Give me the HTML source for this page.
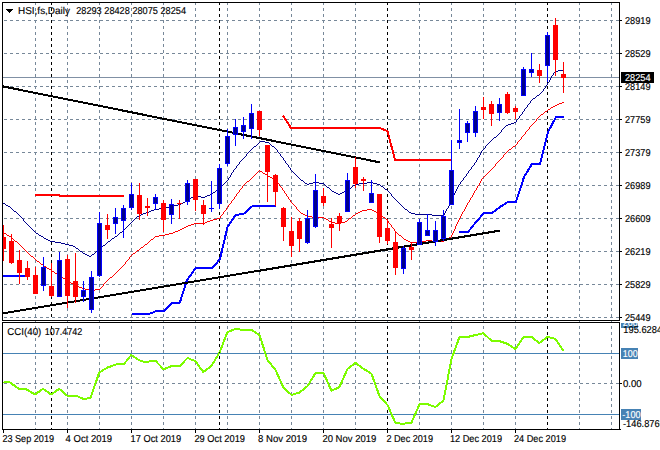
<!DOCTYPE html>
<html><head><meta charset="utf-8"><title>HSI.fs Daily</title>
<style>
html,body{margin:0;padding:0;background:#fff;}
body{width:660px;height:450px;overflow:hidden;position:relative;}
svg{position:absolute;left:0;top:0;display:block;}
text{font-family:"Liberation Sans",sans-serif;font-size:10px;fill:#000;stroke:#000;stroke-width:0.15px;text-rendering:geometricPrecision;}
.w{fill:#fff;stroke:#fff;}
</style></head><body>
<svg width="660" height="450" viewBox="0 0 660 450">
<rect x="0" y="0" width="660" height="450" fill="#fff"/>
<g shape-rendering="crispEdges" fill="none" stroke-width="1">
<line x1="3" y1="20.5" x2="619" y2="20.5" stroke="#778899" stroke-dasharray="3 3" stroke-dashoffset="5"/>
<line x1="3" y1="53.5" x2="619" y2="53.5" stroke="#778899" stroke-dasharray="3 3" stroke-dashoffset="5"/>
<line x1="3" y1="86.5" x2="619" y2="86.5" stroke="#778899" stroke-dasharray="3 3" stroke-dashoffset="5"/>
<line x1="3" y1="119.5" x2="619" y2="119.5" stroke="#778899" stroke-dasharray="3 3" stroke-dashoffset="5"/>
<line x1="3" y1="152.5" x2="619" y2="152.5" stroke="#778899" stroke-dasharray="3 3" stroke-dashoffset="5"/>
<line x1="3" y1="185.5" x2="619" y2="185.5" stroke="#778899" stroke-dasharray="3 3" stroke-dashoffset="5"/>
<line x1="3" y1="218.5" x2="619" y2="218.5" stroke="#778899" stroke-dasharray="3 3" stroke-dashoffset="5"/>
<line x1="3" y1="251.5" x2="619" y2="251.5" stroke="#778899" stroke-dasharray="3 3" stroke-dashoffset="5"/>
<line x1="3" y1="284.5" x2="619" y2="284.5" stroke="#778899" stroke-dasharray="3 3" stroke-dashoffset="5"/>
<line x1="3" y1="317.5" x2="619" y2="317.5" stroke="#778899" stroke-dasharray="3 3" stroke-dashoffset="5"/>
<line x1="3" y1="383.5" x2="619" y2="383.5" stroke="#778899" stroke-dasharray="3 3" stroke-dashoffset="5"/>
<line x1="35.5" y1="3" x2="35.5" y2="320" stroke="#778899" stroke-dasharray="3 3" stroke-dashoffset="1"/>
<line x1="35.5" y1="321" x2="35.5" y2="322" stroke="#778899" stroke-dasharray="3 3" stroke-dashoffset="1"/>
<line x1="35.5" y1="323" x2="35.5" y2="429" stroke="#778899" stroke-dasharray="3 3" stroke-dashoffset="3"/>
<line x1="67.5" y1="3" x2="67.5" y2="320" stroke="#778899" stroke-dasharray="3 3" stroke-dashoffset="1"/>
<line x1="67.5" y1="321" x2="67.5" y2="322" stroke="#778899" stroke-dasharray="3 3" stroke-dashoffset="1"/>
<line x1="67.5" y1="323" x2="67.5" y2="429" stroke="#778899" stroke-dasharray="3 3" stroke-dashoffset="3"/>
<line x1="99.5" y1="3" x2="99.5" y2="320" stroke="#778899" stroke-dasharray="3 3" stroke-dashoffset="1"/>
<line x1="99.5" y1="321" x2="99.5" y2="322" stroke="#778899" stroke-dasharray="3 3" stroke-dashoffset="1"/>
<line x1="99.5" y1="323" x2="99.5" y2="429" stroke="#778899" stroke-dasharray="3 3" stroke-dashoffset="3"/>
<line x1="131.5" y1="3" x2="131.5" y2="320" stroke="#778899" stroke-dasharray="3 3" stroke-dashoffset="1"/>
<line x1="131.5" y1="321" x2="131.5" y2="322" stroke="#778899" stroke-dasharray="3 3" stroke-dashoffset="1"/>
<line x1="131.5" y1="323" x2="131.5" y2="429" stroke="#778899" stroke-dasharray="3 3" stroke-dashoffset="3"/>
<line x1="163.5" y1="3" x2="163.5" y2="320" stroke="#778899" stroke-dasharray="3 3" stroke-dashoffset="1"/>
<line x1="163.5" y1="321" x2="163.5" y2="322" stroke="#778899" stroke-dasharray="3 3" stroke-dashoffset="1"/>
<line x1="163.5" y1="323" x2="163.5" y2="429" stroke="#778899" stroke-dasharray="3 3" stroke-dashoffset="3"/>
<line x1="195.5" y1="3" x2="195.5" y2="320" stroke="#778899" stroke-dasharray="3 3" stroke-dashoffset="1"/>
<line x1="195.5" y1="321" x2="195.5" y2="322" stroke="#778899" stroke-dasharray="3 3" stroke-dashoffset="1"/>
<line x1="195.5" y1="323" x2="195.5" y2="429" stroke="#778899" stroke-dasharray="3 3" stroke-dashoffset="3"/>
<line x1="227.5" y1="3" x2="227.5" y2="320" stroke="#778899" stroke-dasharray="3 3" stroke-dashoffset="1"/>
<line x1="227.5" y1="321" x2="227.5" y2="322" stroke="#778899" stroke-dasharray="3 3" stroke-dashoffset="1"/>
<line x1="227.5" y1="323" x2="227.5" y2="429" stroke="#778899" stroke-dasharray="3 3" stroke-dashoffset="3"/>
<line x1="259.5" y1="3" x2="259.5" y2="320" stroke="#778899" stroke-dasharray="3 3" stroke-dashoffset="1"/>
<line x1="259.5" y1="321" x2="259.5" y2="322" stroke="#778899" stroke-dasharray="3 3" stroke-dashoffset="1"/>
<line x1="259.5" y1="323" x2="259.5" y2="429" stroke="#778899" stroke-dasharray="3 3" stroke-dashoffset="3"/>
<line x1="291.5" y1="3" x2="291.5" y2="320" stroke="#778899" stroke-dasharray="3 3" stroke-dashoffset="1"/>
<line x1="291.5" y1="321" x2="291.5" y2="322" stroke="#778899" stroke-dasharray="3 3" stroke-dashoffset="1"/>
<line x1="291.5" y1="323" x2="291.5" y2="429" stroke="#778899" stroke-dasharray="3 3" stroke-dashoffset="3"/>
<line x1="323.5" y1="3" x2="323.5" y2="320" stroke="#778899" stroke-dasharray="3 3" stroke-dashoffset="1"/>
<line x1="323.5" y1="321" x2="323.5" y2="322" stroke="#778899" stroke-dasharray="3 3" stroke-dashoffset="1"/>
<line x1="323.5" y1="323" x2="323.5" y2="429" stroke="#778899" stroke-dasharray="3 3" stroke-dashoffset="3"/>
<line x1="355.5" y1="3" x2="355.5" y2="320" stroke="#778899" stroke-dasharray="3 3" stroke-dashoffset="1"/>
<line x1="355.5" y1="321" x2="355.5" y2="322" stroke="#778899" stroke-dasharray="3 3" stroke-dashoffset="1"/>
<line x1="355.5" y1="323" x2="355.5" y2="429" stroke="#778899" stroke-dasharray="3 3" stroke-dashoffset="3"/>
<line x1="387.5" y1="3" x2="387.5" y2="320" stroke="#778899" stroke-dasharray="3 3" stroke-dashoffset="1"/>
<line x1="387.5" y1="321" x2="387.5" y2="322" stroke="#778899" stroke-dasharray="3 3" stroke-dashoffset="1"/>
<line x1="387.5" y1="323" x2="387.5" y2="429" stroke="#778899" stroke-dasharray="3 3" stroke-dashoffset="3"/>
<line x1="419.5" y1="3" x2="419.5" y2="320" stroke="#778899" stroke-dasharray="3 3" stroke-dashoffset="1"/>
<line x1="419.5" y1="321" x2="419.5" y2="322" stroke="#778899" stroke-dasharray="3 3" stroke-dashoffset="1"/>
<line x1="419.5" y1="323" x2="419.5" y2="429" stroke="#778899" stroke-dasharray="3 3" stroke-dashoffset="3"/>
<line x1="451.5" y1="3" x2="451.5" y2="320" stroke="#778899" stroke-dasharray="3 3" stroke-dashoffset="1"/>
<line x1="451.5" y1="321" x2="451.5" y2="322" stroke="#778899" stroke-dasharray="3 3" stroke-dashoffset="1"/>
<line x1="451.5" y1="323" x2="451.5" y2="429" stroke="#778899" stroke-dasharray="3 3" stroke-dashoffset="3"/>
<line x1="483.5" y1="3" x2="483.5" y2="320" stroke="#778899" stroke-dasharray="3 3" stroke-dashoffset="1"/>
<line x1="483.5" y1="321" x2="483.5" y2="322" stroke="#778899" stroke-dasharray="3 3" stroke-dashoffset="1"/>
<line x1="483.5" y1="323" x2="483.5" y2="429" stroke="#778899" stroke-dasharray="3 3" stroke-dashoffset="3"/>
<line x1="515.5" y1="3" x2="515.5" y2="320" stroke="#778899" stroke-dasharray="3 3" stroke-dashoffset="1"/>
<line x1="515.5" y1="321" x2="515.5" y2="322" stroke="#778899" stroke-dasharray="3 3" stroke-dashoffset="1"/>
<line x1="515.5" y1="323" x2="515.5" y2="429" stroke="#778899" stroke-dasharray="3 3" stroke-dashoffset="3"/>
<line x1="547.5" y1="3" x2="547.5" y2="320" stroke="#778899" stroke-dasharray="3 3" stroke-dashoffset="1"/>
<line x1="547.5" y1="321" x2="547.5" y2="322" stroke="#778899" stroke-dasharray="3 3" stroke-dashoffset="1"/>
<line x1="547.5" y1="323" x2="547.5" y2="429" stroke="#778899" stroke-dasharray="3 3" stroke-dashoffset="3"/>
<line x1="579.5" y1="3" x2="579.5" y2="320" stroke="#778899" stroke-dasharray="3 3" stroke-dashoffset="1"/>
<line x1="579.5" y1="321" x2="579.5" y2="322" stroke="#778899" stroke-dasharray="3 3" stroke-dashoffset="1"/>
<line x1="579.5" y1="323" x2="579.5" y2="429" stroke="#778899" stroke-dasharray="3 3" stroke-dashoffset="3"/>
<line x1="611.5" y1="3" x2="611.5" y2="320" stroke="#778899" stroke-dasharray="3 3" stroke-dashoffset="1"/>
<line x1="611.5" y1="321" x2="611.5" y2="322" stroke="#778899" stroke-dasharray="3 3" stroke-dashoffset="1"/>
<line x1="611.5" y1="323" x2="611.5" y2="429" stroke="#778899" stroke-dasharray="3 3" stroke-dashoffset="3"/>
<line x1="51.5" y1="3" x2="51.5" y2="320" stroke="#000" stroke-dasharray="3 3" stroke-dashoffset="1"/>
<line x1="51.5" y1="323" x2="51.5" y2="429" stroke="#000" stroke-dasharray="3 3" stroke-dashoffset="3"/>
<line x1="219.5" y1="3" x2="219.5" y2="320" stroke="#000" stroke-dasharray="3 3" stroke-dashoffset="1"/>
<line x1="219.5" y1="323" x2="219.5" y2="429" stroke="#000" stroke-dasharray="3 3" stroke-dashoffset="3"/>
<line x1="387.5" y1="3" x2="387.5" y2="320" stroke="#000" stroke-dasharray="3 3" stroke-dashoffset="1"/>
<line x1="387.5" y1="323" x2="387.5" y2="429" stroke="#000" stroke-dasharray="3 3" stroke-dashoffset="3"/>
<line x1="547.5" y1="3" x2="547.5" y2="320" stroke="#000" stroke-dasharray="3 3" stroke-dashoffset="1"/>
<line x1="547.5" y1="323" x2="547.5" y2="429" stroke="#000" stroke-dasharray="3 3" stroke-dashoffset="3"/>
<line x1="3" y1="77.5" x2="619" y2="77.5" stroke="#8090a4"/>
<line x1="3" y1="353.5" x2="619" y2="353.5" stroke="#4682b4"/>
<line x1="3" y1="414.5" x2="619" y2="414.5" stroke="#4682b4"/>
</g>
<clipPath id="cm"><rect x="3" y="3" width="616" height="317"/></clipPath>
<g clip-path="url(#cm)">
<g shape-rendering="crispEdges" fill="none" stroke="#f00" stroke-width="2" stroke-linejoin="round">
<polyline points="35.0,195.0 59.5,195.0 59.5,196.0 124.0,196.0"/>
<polyline points="283.0,115.5 291.0,128.0 379.5,128.0 387.5,131.0 395.0,160.0 451.5,160.0"/>
</g>
<g shape-rendering="crispEdges" fill="none" stroke="#00f" stroke-width="2" stroke-linejoin="round">
<polyline points="3.0,276.0 26.0,276.0"/>
<polyline points="132.0,314.0 149.0,314.0 156.5,311.0 164.0,311.0 172.3,303.0 179.7,303.0 187.0,280.0 195.8,268.0 212.5,268.0 220.0,259.0 227.5,227.0 235.5,215.0 243.5,214.0 252.5,206.0 276.0,206.0"/>
<polyline points="459.0,232.0 468.0,232.0 476.0,222.0 484.0,213.0 492.0,213.0 500.0,207.0 508.0,202.0 516.0,202.0 524.0,177.0 532.0,164.0 540.0,164.0 548.0,132.0 556.0,117.0 564.0,117.0"/>
</g>
<g shape-rendering="crispEdges">
<path fill="#00008b" d="M558 70h6v1h-6zM555 71h3v1h-3zM554 72h1v1h-1zM553 73h1v2h-1zM552 75h1v1h-1zM551 76h1v2h-1zM550 78h1v2h-1zM549 80h1v2h-1zM548 82h1v1h-1zM547 83h1v2h-1zM546 85h1v1h-1zM545 86h1v2h-1zM544 88h1v1h-1zM543 89h1v2h-1zM542 91h1v1h-1zM541 92h1v1h-1zM540 93h1v1h-1zM539 94h1v1h-1zM537 95h2v1h-2zM536 96h1v1h-1zM535 97h1v1h-1zM533 98h2v1h-2zM532 99h1v1h-1zM531 100h1v1h-1zM530 101h1v2h-1zM529 103h1v1h-1zM528 104h1v1h-1zM527 105h1v2h-1zM526 107h1v1h-1zM525 108h1v1h-1zM524 109h1v2h-1zM523 111h1v1h-1zM522 112h1v2h-1zM521 114h1v1h-1zM520 115h1v1h-1zM519 116h1v2h-1zM518 118h1v1h-1zM517 119h1v1h-1zM516 120h1v2h-1zM514 122h2v1h-2zM511 123h3v1h-3zM508 124h3v1h-3zM506 125h2v1h-2zM505 126h1v1h-1zM504 127h1v1h-1zM503 128h1v1h-1zM502 129h1v1h-1zM501 130h1v2h-1zM500 132h1v1h-1zM499 133h1v1h-1zM498 134h1v1h-1zM497 135h1v1h-1zM496 136h1v1h-1zM494 137h2v1h-2zM493 138h1v1h-1zM492 139h1v1h-1zM491 140h1v1h-1zM260 141h5v1h-5zM490 141h1v1h-1zM259 142h1v1h-1zM265 142h4v1h-4zM489 142h1v1h-1zM258 143h1v1h-1zM269 143h1v1h-1zM488 143h1v1h-1zM257 144h1v1h-1zM270 144h1v1h-1zM487 144h1v1h-1zM256 145h1v1h-1zM271 145h1v1h-1zM486 145h1v1h-1zM254 146h2v1h-2zM272 146h2v1h-2zM485 146h1v2h-1zM253 147h1v1h-1zM274 147h1v1h-1zM252 148h1v1h-1zM275 148h1v1h-1zM484 148h1v1h-1zM251 149h1v1h-1zM276 149h1v1h-1zM483 149h1v1h-1zM250 150h1v1h-1zM277 150h1v2h-1zM482 150h1v1h-1zM249 151h1v1h-1zM481 151h1v2h-1zM248 152h1v1h-1zM278 152h1v1h-1zM247 153h1v1h-1zM279 153h1v1h-1zM480 153h1v2h-1zM246 154h1v2h-1zM280 154h1v2h-1zM479 155h1v2h-1zM245 156h1v1h-1zM281 156h1v1h-1zM244 157h1v1h-1zM282 157h1v1h-1zM478 157h1v1h-1zM243 158h1v1h-1zM283 158h1v2h-1zM477 158h1v2h-1zM242 159h1v1h-1zM241 160h1v1h-1zM284 160h1v1h-1zM476 160h1v2h-1zM240 161h1v1h-1zM285 161h1v2h-1zM239 162h1v2h-1zM475 162h1v1h-1zM286 163h1v1h-1zM474 163h1v2h-1zM238 164h1v1h-1zM287 164h1v1h-1zM237 165h1v1h-1zM288 165h1v2h-1zM473 165h1v1h-1zM236 166h1v2h-1zM472 166h1v1h-1zM289 167h1v1h-1zM471 167h1v2h-1zM235 168h1v1h-1zM290 168h1v2h-1zM234 169h1v1h-1zM470 169h1v1h-1zM233 170h1v2h-1zM291 170h1v1h-1zM469 170h1v1h-1zM292 171h1v1h-1zM468 171h1v2h-1zM232 172h1v1h-1zM293 172h1v1h-1zM231 173h1v2h-1zM294 173h1v1h-1zM467 173h1v1h-1zM295 174h1v1h-1zM466 174h1v2h-1zM230 175h1v2h-1zM296 175h1v1h-1zM297 176h1v1h-1zM465 176h1v1h-1zM229 177h1v1h-1zM298 177h1v1h-1zM464 177h1v1h-1zM228 178h1v2h-1zM299 178h1v1h-1zM463 178h1v2h-1zM300 179h1v1h-1zM227 180h1v1h-1zM301 180h2v1h-2zM462 180h1v1h-1zM226 181h1v1h-1zM303 181h1v1h-1zM461 181h1v1h-1zM225 182h1v1h-1zM304 182h1v1h-1zM313 182h6v1h-6zM367 182h6v1h-6zM460 182h1v2h-1zM224 183h1v1h-1zM305 183h2v1h-2zM309 183h4v1h-4zM319 183h5v1h-5zM359 183h8v1h-8zM373 183h4v1h-4zM223 184h1v1h-1zM307 184h2v1h-2zM324 184h1v1h-1zM355 184h4v1h-4zM377 184h3v1h-3zM459 184h1v1h-1zM221 185h2v1h-2zM325 185h1v1h-1zM353 185h2v1h-2zM380 185h1v1h-1zM458 185h1v2h-1zM220 186h1v1h-1zM326 186h1v1h-1zM352 186h1v1h-1zM381 186h2v1h-2zM219 187h1v1h-1zM327 187h2v1h-2zM351 187h1v1h-1zM383 187h1v1h-1zM457 187h1v2h-1zM218 188h1v1h-1zM329 188h1v1h-1zM349 188h2v1h-2zM384 188h1v1h-1zM217 189h1v1h-1zM330 189h1v1h-1zM348 189h1v1h-1zM385 189h2v1h-2zM456 189h1v2h-1zM216 190h1v1h-1zM331 190h1v1h-1zM346 190h2v1h-2zM387 190h1v1h-1zM215 191h1v1h-1zM332 191h2v1h-2zM344 191h2v1h-2zM388 191h1v1h-1zM455 191h1v2h-1zM213 192h2v1h-2zM334 192h2v1h-2zM342 192h2v1h-2zM389 192h1v1h-1zM212 193h1v1h-1zM336 193h2v1h-2zM340 193h2v1h-2zM390 193h1v1h-1zM454 193h1v2h-1zM210 194h2v1h-2zM338 194h2v1h-2zM391 194h1v2h-1zM195 195h2v1h-2zM207 195h3v1h-3zM453 195h1v2h-1zM193 196h2v1h-2zM197 196h4v1h-4zM205 196h2v1h-2zM392 196h1v1h-1zM191 197h2v1h-2zM201 197h4v1h-4zM393 197h1v1h-1zM452 197h1v4h-1zM190 198h1v1h-1zM394 198h1v1h-1zM188 199h2v1h-2zM395 199h1v1h-1zM187 200h1v1h-1zM396 200h1v1h-1zM185 201h2v1h-2zM397 201h1v1h-1zM451 201h1v2h-1zM2 202h1v1h-1zM183 202h2v1h-2zM398 202h1v1h-1zM3 203h2v1h-2zM181 203h2v1h-2zM399 203h1v1h-1zM450 203h1v2h-1zM5 204h1v1h-1zM178 204h3v1h-3zM400 204h1v1h-1zM6 205h2v1h-2zM174 205h4v1h-4zM401 205h1v1h-1zM449 205h1v1h-1zM8 206h2v1h-2zM169 206h5v1h-5zM402 206h1v1h-1zM448 206h1v2h-1zM10 207h1v1h-1zM165 207h4v1h-4zM403 207h1v1h-1zM11 208h1v1h-1zM159 208h6v1h-6zM404 208h1v1h-1zM447 208h1v1h-1zM12 209h1v1h-1zM154 209h5v1h-5zM405 209h2v1h-2zM446 209h1v2h-1zM13 210h1v1h-1zM151 210h3v1h-3zM407 210h1v1h-1zM14 211h2v1h-2zM149 211h2v1h-2zM408 211h1v1h-1zM445 211h1v2h-1zM16 212h1v1h-1zM146 212h3v1h-3zM409 212h2v1h-2zM17 213h1v1h-1zM143 213h3v1h-3zM411 213h4v1h-4zM444 213h1v2h-1zM18 214h1v1h-1zM141 214h2v1h-2zM415 214h17v1h-17zM19 215h1v1h-1zM139 215h2v1h-2zM432 215h12v1h-12zM20 216h1v1h-1zM137 216h2v1h-2zM21 217h1v1h-1zM136 217h1v1h-1zM22 218h1v1h-1zM135 218h1v1h-1zM23 219h1v2h-1zM134 219h1v1h-1zM133 220h1v1h-1zM24 221h1v1h-1zM132 221h1v1h-1zM25 222h1v1h-1zM131 222h1v1h-1zM26 223h1v1h-1zM130 223h1v1h-1zM27 224h1v1h-1zM129 224h1v1h-1zM28 225h1v1h-1zM128 225h1v1h-1zM29 226h1v1h-1zM127 226h1v1h-1zM30 227h1v1h-1zM126 227h1v1h-1zM31 228h1v1h-1zM125 228h1v1h-1zM32 229h1v1h-1zM124 229h1v1h-1zM33 230h1v1h-1zM123 230h1v1h-1zM34 231h1v1h-1zM122 231h1v1h-1zM35 232h1v1h-1zM120 232h2v1h-2zM36 233h2v1h-2zM119 233h1v1h-1zM38 234h1v1h-1zM118 234h1v1h-1zM39 235h2v1h-2zM117 235h1v1h-1zM41 236h2v1h-2zM115 236h2v1h-2zM43 237h1v1h-1zM114 237h1v1h-1zM44 238h2v1h-2zM112 238h2v1h-2zM46 239h2v1h-2zM111 239h1v1h-1zM48 240h2v1h-2zM110 240h1v1h-1zM50 241h5v1h-5zM108 241h2v1h-2zM55 242h6v1h-6zM107 242h1v1h-1zM61 243h4v1h-4zM106 243h1v1h-1zM65 244h4v1h-4zM105 244h1v1h-1zM69 245h4v1h-4zM103 245h2v1h-2zM73 246h2v1h-2zM102 246h1v1h-1zM75 247h1v1h-1zM101 247h1v1h-1zM76 248h2v1h-2zM100 248h1v1h-1zM78 249h1v1h-1zM99 249h1v1h-1zM79 250h1v1h-1zM98 250h1v1h-1zM80 251h2v1h-2zM96 251h2v1h-2zM82 252h1v1h-1zM95 252h1v1h-1zM83 253h2v1h-2zM94 253h1v1h-1zM85 254h2v1h-2zM92 254h2v1h-2zM87 255h2v1h-2zM91 255h1v1h-1zM89 256h2v1h-2z"/>
<path fill="#f00" d="M562 102h2v1h-2zM559 103h3v1h-3zM557 104h2v1h-2zM555 105h2v1h-2zM553 106h2v1h-2zM551 107h2v1h-2zM550 108h1v1h-1zM548 109h2v1h-2zM547 110h1v1h-1zM545 111h2v1h-2zM544 112h1v1h-1zM543 113h1v1h-1zM541 114h2v1h-2zM540 115h1v1h-1zM539 116h1v1h-1zM538 117h1v1h-1zM537 118h1v1h-1zM536 119h1v2h-1zM535 121h1v1h-1zM534 122h1v1h-1zM533 123h1v1h-1zM532 124h1v1h-1zM531 125h1v1h-1zM530 126h1v1h-1zM529 127h1v2h-1zM528 129h1v1h-1zM527 130h1v1h-1zM526 131h1v1h-1zM525 132h1v2h-1zM524 134h1v1h-1zM523 135h1v1h-1zM522 136h1v1h-1zM521 137h1v2h-1zM520 139h1v1h-1zM519 140h1v1h-1zM518 141h1v1h-1zM517 142h1v2h-1zM516 144h1v1h-1zM515 145h1v1h-1zM513 146h2v1h-2zM512 147h1v1h-1zM511 148h1v1h-1zM509 149h2v1h-2zM508 150h1v1h-1zM507 151h1v1h-1zM506 152h1v1h-1zM505 153h1v1h-1zM504 154h1v1h-1zM503 155h1v2h-1zM502 157h1v1h-1zM501 158h1v1h-1zM500 159h1v1h-1zM499 160h1v1h-1zM498 161h1v1h-1zM497 162h1v1h-1zM496 163h1v1h-1zM495 164h1v2h-1zM494 166h1v1h-1zM493 167h1v1h-1zM492 168h1v1h-1zM491 169h1v1h-1zM259 170h1v1h-1zM490 170h1v1h-1zM258 171h1v1h-1zM260 171h2v1h-2zM489 171h1v1h-1zM257 172h1v1h-1zM262 172h1v1h-1zM488 172h1v1h-1zM256 173h1v1h-1zM263 173h2v1h-2zM487 173h1v1h-1zM255 174h1v1h-1zM265 174h2v1h-2zM486 174h1v1h-1zM254 175h1v1h-1zM267 175h1v1h-1zM485 175h1v1h-1zM253 176h1v1h-1zM268 176h2v1h-2zM484 176h1v1h-1zM252 177h1v1h-1zM270 177h2v1h-2zM483 177h1v1h-1zM251 178h1v1h-1zM272 178h2v1h-2zM482 178h1v1h-1zM250 179h1v1h-1zM274 179h2v1h-2zM481 179h1v2h-1zM249 180h1v1h-1zM276 180h1v2h-1zM247 181h2v1h-2zM480 181h1v2h-1zM246 182h1v1h-1zM277 182h1v1h-1zM245 183h1v1h-1zM278 183h1v1h-1zM479 183h1v2h-1zM244 184h1v1h-1zM279 184h1v2h-1zM243 185h1v1h-1zM478 185h1v1h-1zM242 186h1v2h-1zM280 186h1v1h-1zM477 186h1v2h-1zM281 187h1v1h-1zM241 188h1v1h-1zM282 188h1v2h-1zM476 188h1v2h-1zM240 189h1v1h-1zM239 190h1v2h-1zM283 190h1v1h-1zM475 190h1v1h-1zM284 191h1v2h-1zM474 191h1v2h-1zM238 192h1v1h-1zM237 193h1v1h-1zM285 193h1v1h-1zM473 193h1v2h-1zM236 194h1v2h-1zM286 194h1v2h-1zM472 195h1v2h-1zM235 196h1v1h-1zM287 196h1v1h-1zM234 197h1v2h-1zM288 197h1v2h-1zM471 197h1v1h-1zM470 198h1v2h-1zM233 199h1v1h-1zM289 199h1v1h-1zM232 200h1v1h-1zM290 200h1v2h-1zM469 200h1v2h-1zM231 201h1v2h-1zM291 202h1v1h-1zM468 202h1v1h-1zM230 203h1v1h-1zM292 203h1v1h-1zM467 203h1v2h-1zM229 204h1v1h-1zM293 204h1v1h-1zM228 205h1v2h-1zM294 205h1v1h-1zM466 205h1v2h-1zM295 206h1v1h-1zM227 207h1v1h-1zM296 207h1v2h-1zM465 207h1v2h-1zM226 208h1v2h-1zM297 209h1v1h-1zM367 209h5v1h-5zM464 209h1v2h-1zM225 210h1v1h-1zM298 210h1v1h-1zM362 210h5v1h-5zM372 210h2v1h-2zM224 211h1v1h-1zM299 211h1v1h-1zM360 211h2v1h-2zM374 211h2v1h-2zM463 211h1v1h-1zM223 212h1v2h-1zM300 212h1v1h-1zM358 212h2v1h-2zM376 212h2v1h-2zM462 212h1v2h-1zM301 213h2v1h-2zM356 213h2v1h-2zM378 213h2v1h-2zM222 214h1v1h-1zM303 214h2v1h-2zM355 214h1v1h-1zM380 214h1v1h-1zM461 214h1v2h-1zM221 215h1v1h-1zM305 215h2v1h-2zM353 215h2v1h-2zM381 215h1v1h-1zM220 216h1v2h-1zM307 216h5v1h-5zM352 216h1v1h-1zM382 216h1v1h-1zM460 216h1v2h-1zM312 217h12v1h-12zM351 217h1v1h-1zM383 217h2v1h-2zM217 218h3v1h-3zM324 218h2v1h-2zM349 218h2v1h-2zM385 218h1v1h-1zM459 218h1v2h-1zM213 219h4v1h-4zM326 219h2v1h-2zM348 219h1v1h-1zM386 219h1v1h-1zM210 220h3v1h-3zM328 220h1v1h-1zM347 220h1v1h-1zM387 220h1v1h-1zM458 220h1v2h-1zM207 221h3v1h-3zM329 221h2v1h-2zM345 221h2v1h-2zM388 221h1v2h-1zM205 222h2v1h-2zM331 222h4v1h-4zM341 222h4v1h-4zM457 222h1v2h-1zM194 223h11v1h-11zM335 223h6v1h-6zM389 223h1v1h-1zM191 224h3v1h-3zM390 224h1v1h-1zM456 224h1v2h-1zM188 225h3v1h-3zM391 225h1v2h-1zM186 226h2v1h-2zM455 226h1v3h-1zM184 227h2v1h-2zM392 227h1v1h-1zM182 228h2v1h-2zM393 228h1v1h-1zM180 229h2v1h-2zM394 229h1v2h-1zM454 229h1v2h-1zM178 230h2v1h-2zM175 231h3v1h-3zM395 231h1v1h-1zM453 231h1v2h-1zM3 232h1v1h-1zM173 232h2v1h-2zM396 232h1v1h-1zM4 233h2v1h-2zM169 233h4v1h-4zM397 233h1v1h-1zM452 233h1v2h-1zM6 234h1v1h-1zM165 234h4v1h-4zM398 234h1v1h-1zM7 235h2v1h-2zM159 235h6v1h-6zM399 235h2v1h-2zM451 235h1v2h-1zM9 236h2v1h-2zM155 236h4v1h-4zM401 236h1v1h-1zM11 237h1v1h-1zM154 237h1v1h-1zM402 237h1v1h-1zM449 237h2v1h-2zM12 238h1v1h-1zM153 238h1v1h-1zM403 238h1v1h-1zM447 238h2v1h-2zM13 239h1v1h-1zM151 239h2v1h-2zM404 239h2v1h-2zM446 239h1v1h-1zM14 240h1v1h-1zM150 240h1v1h-1zM406 240h2v1h-2zM426 240h6v1h-6zM444 240h2v1h-2zM15 241h2v1h-2zM149 241h1v1h-1zM408 241h2v1h-2zM422 241h4v1h-4zM432 241h12v1h-12zM17 242h1v1h-1zM148 242h1v1h-1zM410 242h12v1h-12zM18 243h1v1h-1zM147 243h1v1h-1zM19 244h1v1h-1zM145 244h2v1h-2zM20 245h1v1h-1zM144 245h1v1h-1zM21 246h1v1h-1zM143 246h1v1h-1zM22 247h1v1h-1zM141 247h2v1h-2zM23 248h1v1h-1zM140 248h1v1h-1zM24 249h1v1h-1zM139 249h1v1h-1zM25 250h1v1h-1zM137 250h2v1h-2zM26 251h1v1h-1zM136 251h1v1h-1zM27 252h1v1h-1zM135 252h1v1h-1zM28 253h1v1h-1zM133 253h2v1h-2zM29 254h1v1h-1zM132 254h1v1h-1zM30 255h1v1h-1zM131 255h1v1h-1zM31 256h2v1h-2zM130 256h1v1h-1zM33 257h1v1h-1zM129 257h1v2h-1zM34 258h1v1h-1zM35 259h1v1h-1zM128 259h1v1h-1zM36 260h1v1h-1zM127 260h1v1h-1zM37 261h2v1h-2zM126 261h1v1h-1zM39 262h1v1h-1zM125 262h1v2h-1zM40 263h1v1h-1zM41 264h2v1h-2zM124 264h1v1h-1zM43 265h1v1h-1zM123 265h1v1h-1zM44 266h2v1h-2zM122 266h1v1h-1zM46 267h1v1h-1zM121 267h1v1h-1zM47 268h2v1h-2zM120 268h1v1h-1zM49 269h2v1h-2zM119 269h1v1h-1zM51 270h1v1h-1zM118 270h1v1h-1zM52 271h2v1h-2zM117 271h1v1h-1zM54 272h1v1h-1zM116 272h1v1h-1zM55 273h2v1h-2zM115 273h1v1h-1zM57 274h2v1h-2zM114 274h1v1h-1zM59 275h1v1h-1zM113 275h1v1h-1zM60 276h2v1h-2zM112 276h1v1h-1zM62 277h1v1h-1zM110 277h2v1h-2zM63 278h2v1h-2zM109 278h1v1h-1zM65 279h2v1h-2zM108 279h1v1h-1zM67 280h1v1h-1zM107 280h1v1h-1zM68 281h2v1h-2zM106 281h1v1h-1zM70 282h1v1h-1zM105 282h1v1h-1zM71 283h2v1h-2zM104 283h1v1h-1zM73 284h2v1h-2zM103 284h1v2h-1zM75 285h2v1h-2zM77 286h2v1h-2zM102 286h1v1h-1zM79 287h3v1h-3zM101 287h1v1h-1zM82 288h3v1h-3zM100 288h1v1h-1zM85 289h4v1h-4zM95 289h5v1h-5zM89 290h6v1h-6z"/>
</g>
<g shape-rendering="crispEdges" fill="none" stroke="#000" stroke-width="2">
<line x1="3" y1="86.4" x2="380" y2="162.4"/>
<line x1="3" y1="313.4" x2="500" y2="230.6"/>
</g>
<g shape-rendering="crispEdges">
<rect x="3" y="225" width="1" height="36" fill="#f00"/><rect x="1" y="237" width="5" height="12" fill="#f00"/>
<rect x="11" y="234" width="1" height="30" fill="#f00"/><rect x="9" y="241" width="5" height="22" fill="#f00"/>
<rect x="19" y="250" width="1" height="34" fill="#f00"/><rect x="17" y="260" width="5" height="13" fill="#f00"/>
<rect x="27" y="261" width="1" height="19" fill="#f00"/><rect x="25" y="268" width="5" height="9" fill="#f00"/>
<rect x="35" y="267" width="1" height="27" fill="#f00"/><rect x="33" y="275" width="5" height="19" fill="#f00"/>
<rect x="43" y="257" width="1" height="34" fill="#00f"/><rect x="41" y="267" width="5" height="19" fill="#00f"/><rect x="42" y="268" width="3" height="17" fill="#00008b"/>
<rect x="51" y="263" width="1" height="34" fill="#f00"/><rect x="49" y="286" width="5" height="10" fill="#f00"/>
<rect x="59" y="252" width="1" height="45" fill="#00f"/><rect x="57" y="260" width="5" height="37" fill="#00f"/><rect x="58" y="261" width="3" height="35" fill="#00008b"/>
<rect x="67" y="255" width="1" height="53" fill="#f00"/><rect x="65" y="259" width="5" height="37" fill="#f00"/>
<rect x="75" y="253" width="1" height="50" fill="#f00"/><rect x="73" y="281" width="5" height="16" fill="#f00"/>
<rect x="83" y="281" width="1" height="21" fill="#00f"/><rect x="81" y="290" width="5" height="7" fill="#00f"/><rect x="82" y="291" width="3" height="5" fill="#00008b"/>
<rect x="91" y="271" width="1" height="42" fill="#00f"/><rect x="89" y="277" width="5" height="33" fill="#00f"/><rect x="90" y="278" width="3" height="31" fill="#00008b"/>
<rect x="99" y="212" width="1" height="65" fill="#00f"/><rect x="97" y="223" width="5" height="53" fill="#00f"/><rect x="98" y="224" width="3" height="51" fill="#00008b"/>
<rect x="107" y="214" width="1" height="25" fill="#f00"/><rect x="105" y="225" width="5" height="5" fill="#f00"/>
<rect x="115" y="208" width="1" height="26" fill="#00f"/><rect x="113" y="217" width="5" height="7" fill="#00f"/><rect x="114" y="218" width="3" height="5" fill="#00008b"/>
<rect x="123" y="205" width="1" height="33" fill="#00f"/><rect x="121" y="208" width="5" height="13" fill="#00f"/><rect x="122" y="209" width="3" height="11" fill="#00008b"/>
<rect x="131" y="183" width="1" height="27" fill="#00f"/><rect x="129" y="194" width="5" height="14" fill="#00f"/><rect x="130" y="195" width="3" height="12" fill="#00008b"/>
<rect x="139" y="183" width="1" height="37" fill="#f00"/><rect x="137" y="195" width="5" height="19" fill="#f00"/>
<rect x="147" y="198" width="1" height="18" fill="#f00"/><rect x="145" y="206" width="5" height="2" fill="#f00"/>
<rect x="155" y="194" width="1" height="16" fill="#00f"/><rect x="153" y="197" width="5" height="7" fill="#00f"/><rect x="154" y="198" width="3" height="5" fill="#00008b"/>
<rect x="163" y="200" width="1" height="32" fill="#f00"/><rect x="161" y="203" width="5" height="17" fill="#f00"/>
<rect x="171" y="199" width="1" height="25" fill="#00f"/><rect x="169" y="204" width="5" height="11" fill="#00f"/><rect x="170" y="205" width="3" height="9" fill="#00008b"/>
<rect x="179" y="200" width="1" height="19" fill="#f00"/><rect x="177" y="203" width="5" height="1" fill="#f00"/>
<rect x="187" y="180" width="1" height="25" fill="#00f"/><rect x="185" y="183" width="5" height="19" fill="#00f"/><rect x="186" y="184" width="3" height="17" fill="#00008b"/>
<rect x="195" y="179" width="1" height="32" fill="#f00"/><rect x="193" y="179" width="5" height="21" fill="#f00"/>
<rect x="203" y="200" width="1" height="25" fill="#f00"/><rect x="201" y="205" width="5" height="9" fill="#f00"/>
<rect x="211" y="181" width="1" height="31" fill="#00f"/><rect x="209" y="208" width="5" height="1" fill="#00f"/>
<rect x="219" y="164" width="1" height="45" fill="#00f"/><rect x="217" y="168" width="5" height="36" fill="#00f"/><rect x="218" y="169" width="3" height="34" fill="#00008b"/>
<rect x="227" y="129" width="1" height="37" fill="#00f"/><rect x="225" y="136" width="5" height="28" fill="#00f"/><rect x="226" y="137" width="3" height="26" fill="#00008b"/>
<rect x="235" y="119" width="1" height="27" fill="#00f"/><rect x="233" y="127" width="5" height="8" fill="#00f"/><rect x="234" y="128" width="3" height="6" fill="#00008b"/>
<rect x="243" y="117" width="1" height="22" fill="#00f"/><rect x="241" y="125" width="5" height="7" fill="#00f"/><rect x="242" y="126" width="3" height="5" fill="#00008b"/>
<rect x="251" y="104" width="1" height="35" fill="#00f"/><rect x="249" y="113" width="5" height="16" fill="#00f"/><rect x="250" y="114" width="3" height="14" fill="#00008b"/>
<rect x="259" y="111" width="1" height="25" fill="#f00"/><rect x="257" y="111" width="5" height="19" fill="#f00"/>
<rect x="267" y="145" width="1" height="57" fill="#f00"/><rect x="265" y="145" width="5" height="27" fill="#f00"/>
<rect x="275" y="174" width="1" height="32" fill="#f00"/><rect x="273" y="175" width="5" height="17" fill="#f00"/>
<rect x="283" y="207" width="1" height="34" fill="#f00"/><rect x="281" y="208" width="5" height="19" fill="#f00"/>
<rect x="291" y="217" width="1" height="40" fill="#f00"/><rect x="289" y="231" width="5" height="15" fill="#f00"/>
<rect x="299" y="218" width="1" height="34" fill="#f00"/><rect x="297" y="221" width="5" height="18" fill="#f00"/>
<rect x="307" y="210" width="1" height="34" fill="#00f"/><rect x="305" y="218" width="5" height="25" fill="#00f"/><rect x="306" y="219" width="3" height="23" fill="#00008b"/>
<rect x="315" y="174" width="1" height="54" fill="#00f"/><rect x="313" y="190" width="5" height="37" fill="#00f"/><rect x="314" y="191" width="3" height="35" fill="#00008b"/>
<rect x="323" y="188" width="1" height="18" fill="#f00"/><rect x="321" y="196" width="5" height="7" fill="#f00"/>
<rect x="331" y="218" width="1" height="30" fill="#f00"/><rect x="329" y="224" width="5" height="4" fill="#f00"/>
<rect x="339" y="213" width="1" height="18" fill="#f00"/><rect x="337" y="216" width="5" height="7" fill="#f00"/>
<rect x="347" y="173" width="1" height="39" fill="#00f"/><rect x="345" y="180" width="5" height="32" fill="#00f"/><rect x="346" y="181" width="3" height="30" fill="#00008b"/>
<rect x="355" y="157" width="1" height="31" fill="#f00"/><rect x="353" y="167" width="5" height="17" fill="#f00"/>
<rect x="363" y="177" width="1" height="14" fill="#f00"/><rect x="361" y="179" width="5" height="2" fill="#f00"/>
<rect x="371" y="180" width="1" height="23" fill="#00f"/><rect x="369" y="193" width="5" height="10" fill="#00f"/><rect x="370" y="194" width="3" height="8" fill="#00008b"/>
<rect x="379" y="194" width="1" height="49" fill="#f00"/><rect x="377" y="194" width="5" height="43" fill="#f00"/>
<rect x="387" y="219" width="1" height="25" fill="#f00"/><rect x="385" y="228" width="5" height="13" fill="#f00"/>
<rect x="395" y="231" width="1" height="44" fill="#f00"/><rect x="393" y="242" width="5" height="26" fill="#f00"/>
<rect x="403" y="246" width="1" height="28" fill="#00f"/><rect x="401" y="248" width="5" height="21" fill="#00f"/><rect x="402" y="249" width="3" height="19" fill="#00008b"/>
<rect x="411" y="242" width="1" height="18" fill="#f00"/><rect x="409" y="247" width="5" height="3" fill="#f00"/>
<rect x="419" y="219" width="1" height="26" fill="#00f"/><rect x="417" y="222" width="5" height="23" fill="#00f"/><rect x="418" y="223" width="3" height="21" fill="#00008b"/>
<rect x="427" y="214" width="1" height="22" fill="#00f"/><rect x="425" y="230" width="5" height="6" fill="#00f"/><rect x="426" y="231" width="3" height="4" fill="#00008b"/>
<rect x="435" y="221" width="1" height="25" fill="#00f"/><rect x="433" y="230" width="5" height="12" fill="#00f"/><rect x="434" y="231" width="3" height="10" fill="#00008b"/>
<rect x="443" y="210" width="1" height="31" fill="#00f"/><rect x="441" y="216" width="5" height="23" fill="#00f"/><rect x="442" y="217" width="3" height="21" fill="#00008b"/>
<rect x="451" y="140" width="1" height="65" fill="#00f"/><rect x="449" y="170" width="5" height="35" fill="#00f"/><rect x="450" y="171" width="3" height="33" fill="#00008b"/>
<rect x="459" y="109" width="1" height="40" fill="#00f"/><rect x="457" y="140" width="5" height="3" fill="#00f"/><rect x="458" y="141" width="3" height="1" fill="#00008b"/>
<rect x="467" y="121" width="1" height="21" fill="#00f"/><rect x="465" y="123" width="5" height="10" fill="#00f"/><rect x="466" y="124" width="3" height="8" fill="#00008b"/>
<rect x="475" y="106" width="1" height="31" fill="#00f"/><rect x="473" y="111" width="5" height="22" fill="#00f"/><rect x="474" y="112" width="3" height="20" fill="#00008b"/>
<rect x="483" y="97" width="1" height="22" fill="#f00"/><rect x="481" y="107" width="5" height="3" fill="#f00"/>
<rect x="491" y="101" width="1" height="25" fill="#f00"/><rect x="489" y="104" width="5" height="10" fill="#f00"/>
<rect x="499" y="98" width="1" height="23" fill="#00f"/><rect x="497" y="104" width="5" height="9" fill="#00f"/><rect x="498" y="105" width="3" height="7" fill="#00008b"/>
<rect x="507" y="92" width="1" height="22" fill="#f00"/><rect x="505" y="94" width="5" height="19" fill="#f00"/>
<rect x="515" y="106" width="1" height="13" fill="#f00"/><rect x="513" y="108" width="5" height="4" fill="#f00"/>
<rect x="523" y="67" width="1" height="29" fill="#00f"/><rect x="521" y="69" width="5" height="27" fill="#00f"/><rect x="522" y="70" width="3" height="25" fill="#00008b"/>
<rect x="531" y="53" width="1" height="24" fill="#00f"/><rect x="529" y="69" width="5" height="4" fill="#00f"/><rect x="530" y="70" width="3" height="2" fill="#00008b"/>
<rect x="539" y="64" width="1" height="19" fill="#f00"/><rect x="537" y="70" width="5" height="6" fill="#f00"/>
<rect x="547" y="32" width="1" height="50" fill="#00f"/><rect x="545" y="35" width="5" height="31" fill="#00f"/><rect x="546" y="36" width="3" height="29" fill="#00008b"/>
<rect x="555" y="18" width="1" height="58" fill="#f00"/><rect x="553" y="25" width="5" height="35" fill="#f00"/>
<rect x="563" y="62" width="1" height="31" fill="#f00"/><rect x="561" y="74" width="5" height="4" fill="#f00"/>
</g>
</g>
<g shape-rendering="crispEdges" fill="none" stroke="#7cfc00" stroke-width="2" stroke-linejoin="round">
<polyline points="3.5,382.0 10.0,382.5 18.8,388.8 26.2,389.2 35.0,394.5 43.0,388.8 51.2,394.5 59.2,388.8 67.0,395.5 76.2,395.8 83.8,399.0 90.5,398.0 99.2,372.5 107.5,367.5 116.2,364.5 124.2,363.8 131.2,355.0 138.8,360.0 144.5,362.0 155.5,360.8 163.5,369.2 171.5,366.2 180.0,365.8 187.5,358.0 195.5,361.2 203.2,372.0 211.5,365.8 219.5,352.5 227.5,332.0 235.5,329.0 243.5,330.0 251.5,330.0 259.5,335.0 267.5,360.0 275.5,370.0 283.5,387.5 291.5,395.0 299.5,392.5 307.5,386.2 315.5,373.0 323.5,373.0 331.5,390.8 339.5,387.0 347.5,368.8 355.5,363.0 363.5,368.8 371.5,373.8 379.5,396.2 387.5,405.0 395.5,423.2 403.5,423.8 411.5,422.5 419.5,404.2 427.5,404.2 435.5,407.0 443.5,400.5 451.5,358.8 459.5,337.0 467.5,337.0 475.5,335.0 483.5,333.2 491.5,340.8 499.5,341.2 507.5,343.8 515.5,349.0 523.5,337.0 531.5,337.0 539.5,343.0 547.5,337.0 555.5,338.8 563.5,351.2"/>
</g>
<g shape-rendering="crispEdges" fill="#000">
<rect x="2" y="2" width="618" height="1"/><rect x="2" y="320" width="618" height="1"/><rect x="2" y="2" width="1" height="319"/><rect x="619" y="2" width="1" height="319"/>
<rect x="2" y="322" width="618" height="1"/><rect x="2" y="429" width="619" height="1"/><rect x="2" y="322" width="1" height="108"/><rect x="619" y="322" width="1" height="108"/>
<rect x="620" y="20" width="2" height="1"/><rect x="620" y="53" width="2" height="1"/><rect x="620" y="86" width="2" height="1"/><rect x="620" y="119" width="2" height="1"/><rect x="620" y="152" width="2" height="1"/><rect x="620" y="185" width="2" height="1"/><rect x="620" y="218" width="2" height="1"/><rect x="620" y="251" width="2" height="1"/><rect x="620" y="284" width="2" height="1"/><rect x="620" y="317" width="2" height="1"/><rect x="620" y="383" width="2" height="1"/>
<rect x="3" y="430" width="1" height="3"/><rect x="67" y="430" width="1" height="3"/><rect x="131" y="430" width="1" height="3"/><rect x="195" y="430" width="1" height="3"/><rect x="259" y="430" width="1" height="3"/><rect x="323" y="430" width="1" height="3"/><rect x="387" y="430" width="1" height="3"/><rect x="451" y="430" width="1" height="3"/><rect x="515" y="430" width="1" height="3"/>
</g>
<g shape-rendering="crispEdges" fill="#000"><rect x="6" y="9" width="7" height="1"/><rect x="7" y="10" width="5" height="1"/><rect x="8" y="11" width="3" height="1"/><rect x="9" y="12" width="1" height="1"/></g>
<g shape-rendering="crispEdges">
<rect x="621" y="72" width="33" height="11" fill="#000"/>
<rect x="621" y="348" width="17" height="11" fill="#4682b4"/>
<rect x="621" y="409" width="20" height="11" fill="#4682b4"/>
<clipPath id="cs"><rect x="620" y="323" width="40" height="107"/></clipPath>
<rect x="621" y="317" width="17" height="11" fill="#4682b4" clip-path="url(#cs)"/>
</g>
<g>
<text transform="translate(18.00 14.00) scale(0.917 1)" textLength="56.71" lengthAdjust="spacingAndGlyphs">HSI,fs,Daily</text>
<text transform="translate(76.20 14.00) scale(0.917 1)" textLength="27.81" lengthAdjust="spacingAndGlyphs">28293</text>
<text transform="translate(104.30 14.00) scale(0.917 1)" textLength="27.81" lengthAdjust="spacingAndGlyphs">28428</text>
<text transform="translate(132.40 14.00) scale(0.917 1)" textLength="27.81" lengthAdjust="spacingAndGlyphs">28075</text>
<text transform="translate(160.50 14.00) scale(0.917 1)" textLength="27.81" lengthAdjust="spacingAndGlyphs">28254</text>
<text transform="translate(625.00 24.00) scale(0.917 1)" textLength="27.81" lengthAdjust="spacingAndGlyphs">28919</text>
<text transform="translate(625.00 57.00) scale(0.917 1)" textLength="27.81" lengthAdjust="spacingAndGlyphs">28529</text>
<text transform="translate(625.00 90.00) scale(0.917 1)" textLength="27.81" lengthAdjust="spacingAndGlyphs">28149</text>
<text transform="translate(625.00 123.00) scale(0.917 1)" textLength="27.81" lengthAdjust="spacingAndGlyphs">27759</text>
<text transform="translate(625.00 156.00) scale(0.917 1)" textLength="27.81" lengthAdjust="spacingAndGlyphs">27379</text>
<text transform="translate(625.00 189.00) scale(0.917 1)" textLength="27.81" lengthAdjust="spacingAndGlyphs">26989</text>
<text transform="translate(625.00 222.00) scale(0.917 1)" textLength="27.81" lengthAdjust="spacingAndGlyphs">26609</text>
<text transform="translate(625.00 255.00) scale(0.917 1)" textLength="27.81" lengthAdjust="spacingAndGlyphs">26219</text>
<text transform="translate(625.00 288.00) scale(0.917 1)" textLength="27.81" lengthAdjust="spacingAndGlyphs">25829</text>
<text transform="translate(625.00 321.00) scale(0.917 1)" textLength="27.81" lengthAdjust="spacingAndGlyphs">25449</text>
<text class="w" transform="translate(625.00 81.00) scale(0.917 1)" textLength="27.81" lengthAdjust="spacingAndGlyphs">28254</text>
<text transform="translate(7.30 335.00) scale(0.917 1)" textLength="37.08" lengthAdjust="spacingAndGlyphs">CCI(40)</text>
<text transform="translate(44.70 335.00) scale(0.917 1)" textLength="40.89" lengthAdjust="spacingAndGlyphs">107.4742</text>
<g clip-path="url(#cs)"><text class="w" transform="translate(622.80 326.00) scale(0.917 1)" textLength="16.14" lengthAdjust="spacingAndGlyphs">200</text>
</g>
<text transform="translate(623.30 333.00) scale(0.917 1)" textLength="42.31" lengthAdjust="spacingAndGlyphs">195.6284</text>
<text class="w" transform="translate(622.80 357.00) scale(0.917 1)" textLength="16.14" lengthAdjust="spacingAndGlyphs">100</text>
<text transform="translate(623.00 387.00) scale(0.917 1)" textLength="20.39" lengthAdjust="spacingAndGlyphs">0.00</text>
<text class="w" transform="translate(622.30 418.00) scale(0.917 1)" textLength="19.85" lengthAdjust="spacingAndGlyphs">-100</text>
<text transform="translate(623.00 427.00) scale(0.917 1)" textLength="45.69" lengthAdjust="spacingAndGlyphs">-146.8765</text>
<text transform="translate(2.40 442.00) scale(0.917 1)" textLength="56.27" lengthAdjust="spacingAndGlyphs">23 Sep 2019</text>
<text transform="translate(65.60 442.00) scale(0.917 1)" textLength="50.60" lengthAdjust="spacingAndGlyphs">4 Oct 2019</text>
<text transform="translate(130.60 442.00) scale(0.917 1)" textLength="55.07" lengthAdjust="spacingAndGlyphs">17 Oct 2019</text>
<text transform="translate(194.40 442.00) scale(0.917 1)" textLength="55.18" lengthAdjust="spacingAndGlyphs">29 Oct 2019</text>
<text transform="translate(258.00 442.00) scale(0.917 1)" textLength="53.44" lengthAdjust="spacingAndGlyphs">8 Nov 2019</text>
<text transform="translate(322.40 442.00) scale(0.917 1)" textLength="58.78" lengthAdjust="spacingAndGlyphs">20 Nov 2019</text>
<text transform="translate(386.40 442.00) scale(0.917 1)" textLength="50.82" lengthAdjust="spacingAndGlyphs">2 Dec 2019</text>
<text transform="translate(449.90 442.00) scale(0.917 1)" textLength="56.82" lengthAdjust="spacingAndGlyphs">12 Dec 2019</text>
<text transform="translate(514.00 442.00) scale(0.917 1)" textLength="56.71" lengthAdjust="spacingAndGlyphs">24 Dec 2019</text>
</g>
</svg>
</body></html>
